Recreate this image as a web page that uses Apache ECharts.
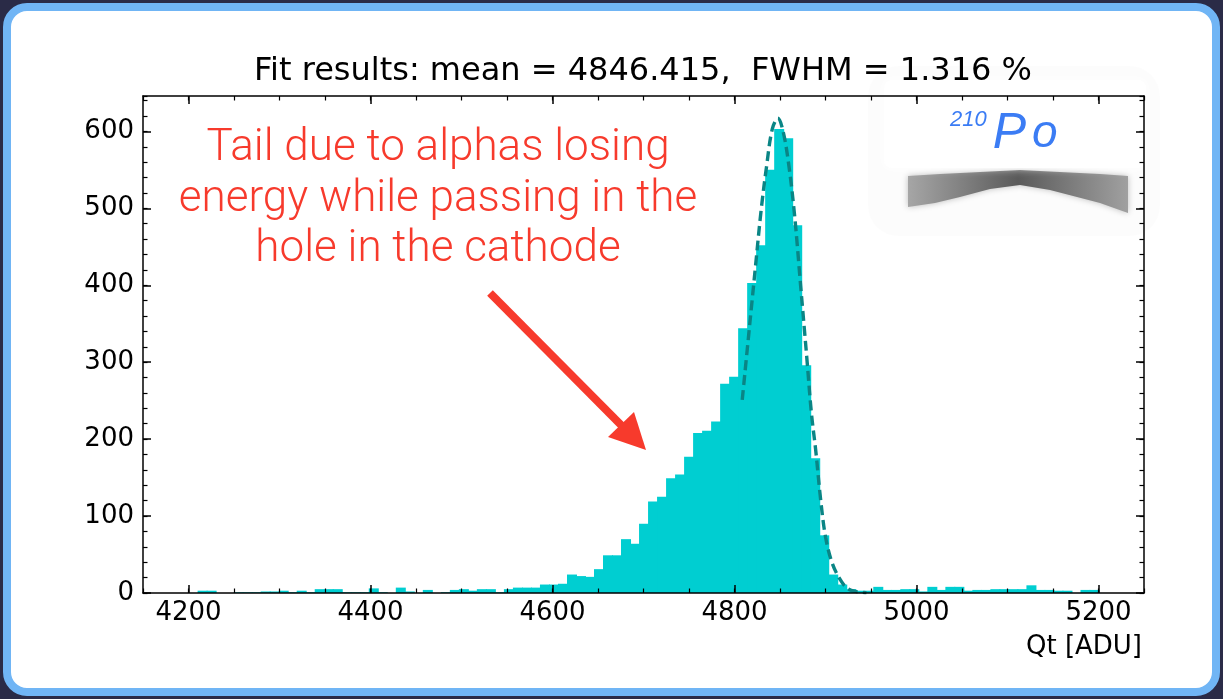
<!DOCTYPE html>
<html>
<head>
<meta charset="utf-8">
<script src="https://cdn.jsdelivr.net/npm/echarts@6/dist/echarts.min.js"></script>
<style>
  html, body { margin: 0; padding: 0; width: 1223px; height: 699px; overflow: hidden; background: #2a2b47; }
  #frame { position: absolute; left: 3px; top: 3px; width: 1217px; height: 693px; box-sizing: border-box;
           border: 8px solid #70b5f5; border-radius: 24px; background: #ffffff; }
  #chart { position: absolute; left: 0; top: 0; width: 1223px; height: 699px; }
</style>
</head>
<body>
<div id="frame"></div>
<div id="chart"></div>
<script>
// ---- data ----
const binStart = 4210;      // left edge of first histogram bin (ADU)
const binWidth = 9.9;       // histogram bin width (ADU)
const counts = [
  3, 3, 0, 0, 1, 1, 1, 2, 2, 3,
  1, 3, 1, 5, 5, 5, 1, 1, 1, 6,
  1, 0, 7, 2, 0, 4, 0, 1, 4, 5,
  3, 5, 5, 1, 5, 7, 7, 7, 11, 11,
  12, 24, 22, 21, 31, 49, 49, 70, 64, 90,
  119, 125, 149, 154, 177, 208, 211, 223, 272, 281,
  344, 403, 452, 550, 603, 591, 478, 296, 175, 75,
  24, 11, 5, 3, 3, 8, 4, 4, 5, 5,
  2, 8, 4, 8, 8, 3, 4, 4, 5, 5,
  5, 5, 10, 4, 4, 3, 3, 0, 4, 4
];
const fitX = [4808.5, 4815.8, 4823.1, 4829.4, 4835.3, 4841.5, 4847.7, 4853.6, 4859.8, 4866.1,
              4872.7, 4879.3, 4884.5, 4889.2, 4894.7, 4900.2, 4907.6, 4916.9, 4924.1, 4933, 4945];
const fitY = [251, 338, 425, 499, 555, 603, 617, 599, 555, 490,
              399, 308, 234, 186, 121, 72, 38, 16, 6, 2, 0.5];
const xMajorTicks = [4200, 4400, 4600, 4800, 5000, 5200];
const yMajorTicks = [0, 100, 200, 300, 400, 500, 600];
const titleText = 'Fit results: mean = 4846.415,  FWHM = 1.316 %';
const xAxisName = 'Qt [ADU]';
const noteLines = ['Tail due to alphas losing', 'energy while passing in the', 'hole in the cathode'];
const isotopeMass = '210';
const isotopeSymbol = ['P', 'o'];

// ---- build ----
const histData = counts.map((c, i) => [binStart + i * binWidth, binStart + (i + 1) * binWidth, c]);
const fitData = fitX.map((x, i) => [x, fitY[i]]);

const FONT = 'DejaVu Sans';
const X_MIN = 4150, X_MAX = 5250, Y_MIN = 0, Y_MAX = 646;
const axisLineStyle = { color: '#000', width: 1.5 };
const plainNum = v => String(v);

function xAxisPair(position, withLabels) {
  return [
    { type: 'value', position, min: X_MIN, max: X_MAX, interval: 50, z: 10,
      axisLine: { show: true, onZero: false, lineStyle: axisLineStyle },
      axisTick: { show: true, inside: true, length: 4.5, lineStyle: { color: '#000', width: 1.2 } },
      axisLabel: { show: false }, splitLine: { show: false } },
    { type: 'value', position, min: X_MIN, max: X_MAX, z: 10,
      axisLine: { show: false, onZero: false },
      axisTick: { show: true, inside: true, length: 8, customValues: xMajorTicks, lineStyle: { color: '#000', width: 1.5 } },
      axisLabel: { show: withLabels, customValues: xMajorTicks, formatter: plainNum, fontSize: 26, fontFamily: FONT, color: '#000', margin: 7 },
      splitLine: { show: false } }
  ];
}
function yAxisPair(position, withLabels) {
  return [
    { type: 'value', position, min: Y_MIN, max: Y_MAX, interval: 20, z: 10,
      axisLine: { show: true, onZero: false, lineStyle: axisLineStyle },
      axisTick: { show: true, inside: true, length: 4.5, lineStyle: { color: '#000', width: 1.2 } },
      axisLabel: { show: false }, splitLine: { show: false } },
    { type: 'value', position, min: Y_MIN, max: Y_MAX, z: 10,
      axisLine: { show: false, onZero: false },
      axisTick: { show: true, inside: true, length: 8, customValues: yMajorTicks, lineStyle: { color: '#000', width: 1.5 } },
      axisLabel: { show: withLabels, customValues: yMajorTicks, formatter: plainNum, fontSize: 26, fontFamily: FONT, color: '#000', margin: 9 },
      splitLine: { show: false } }
  ];
}

const chart = echarts.init(document.getElementById('chart'), null, { renderer: 'canvas' });
chart.setOption({
  backgroundColor: 'transparent',
  animation: false,
  grid: { left: 143, top: 96, right: 79, bottom: 106, containLabel: false },
  xAxis: [...xAxisPair('bottom', true), ...xAxisPair('top', false)],
  yAxis: [...yAxisPair('left', true), ...yAxisPair('right', false)],
  series: [
    {
      type: 'custom', xAxisIndex: 0, yAxisIndex: 0, z: 2, clip: true,
      encode: { x: [0, 1], y: 2 },
      data: histData,
      renderItem: function (params, api) {
        const p0 = api.coord([api.value(0), api.value(2)]);
        const p1 = api.coord([api.value(1), 0]);
        return { type: 'rect',
          shape: { x: p0[0], y: p0[1], width: p1[0] - p0[0] + 1, height: p1[1] - p0[1] },
          style: { fill: '#00CED1' } };
      }
    },
    {
      type: 'line', xAxisIndex: 0, yAxisIndex: 0, z: 3,
      data: fitData, showSymbol: false, smooth: 0.35,
      lineStyle: { color: '#0a8585', width: 3.4, type: [10, 5] }
    }
  ],
  graphic: [
    // soft grey haze + white patch of the pasted image (kept below the axes)
    { type: 'rect', z: 1, shape: { x: 868, y: 66, width: 292, height: 170, r: 30 },
      style: { fill: 'rgba(0,0,0,0.012)', shadowBlur: 40, shadowColor: 'rgba(0,0,0,0.05)' } },
    { type: 'polygon', z: 1,
      shape: { points: [[908,176],[940,174],[980,172],[1020,170],[1060,172],[1100,174],[1128,176],
                        [1128,213],[1100,203],[1077,197],[1050,190],[1020,185],[990,189],[960,197],[935,203],[908,207]] },
      style: { fill: new echarts.graphic.LinearGradient(0, 0, 1, 0, [
          { offset: 0, color: '#a6a6a6' }, { offset: 0.5, color: '#5a5a5a' }, { offset: 1, color: '#a0a0a0' }]),
        shadowBlur: 6, shadowColor: 'rgba(0,0,0,0.25)' } },
    { type: 'rect', z: 1, shape: { x: 884, y: 80, width: 262, height: 88, r: 8 },
      style: { fill: '#ffffff', shadowBlur: 8, shadowColor: 'rgba(255,255,255,0.9)' } },
    { type: 'text', z: 20, x: 950, y: 134,
      style: { text: '{a|' + isotopeMass + '}{b|' + isotopeSymbol[0] + '}{c|' + isotopeSymbol[1] + '}', verticalAlign: 'middle',
        rich: {
          a: { fontSize: 22, fontFamily: 'Liberation Sans', fontStyle: 'italic', fill: '#3b7cf4', verticalAlign: 'top', padding: [0, 6, 10, 0] },
          b: { fontSize: 50, fontFamily: 'Liberation Sans', fontStyle: 'italic', fill: '#3b7cf4' },
          c: { fontSize: 46, fontFamily: 'Liberation Sans', fontStyle: 'italic', fill: '#3b7cf4', padding: [0, 0, 0, 6] }
        } } },
    // title and axis name
    { type: 'text', z: 20, x: 643, y: 72,
      style: { text: titleText, font: '32px "DejaVu Sans"', fill: '#000', align: 'center', verticalAlign: 'middle' } },
    { type: 'text', z: 20, x: 1142, y: 647,
      style: { text: xAxisName, font: '26px "DejaVu Sans"', fill: '#000', align: 'right', verticalAlign: 'middle' } },
    // red annotation
    { type: 'text', z: 20, x: 438, y: 149,
      style: { text: noteLines[0], font: '300 44px Roboto', fill: '#f73a2c', align: 'center', verticalAlign: 'middle' } },
    { type: 'text', z: 20, x: 438, y: 200,
      style: { text: noteLines[1], font: '300 44px Roboto', fill: '#f73a2c', align: 'center', verticalAlign: 'middle' } },
    { type: 'text', z: 20, x: 438, y: 250,
      style: { text: noteLines[2], font: '300 44px Roboto', fill: '#f73a2c', align: 'center', verticalAlign: 'middle' } },
    { type: 'line', z: 20, shape: { x1: 490, y1: 293, x2: 624, y2: 428 },
      style: { stroke: '#f73a2c', lineWidth: 8 } },
    { type: 'polygon', z: 20, shape: { points: [[646, 450], [608, 437], [634, 412]] },
      style: { fill: '#f73a2c' } }
  ]
});
</script>
</body>
</html>
